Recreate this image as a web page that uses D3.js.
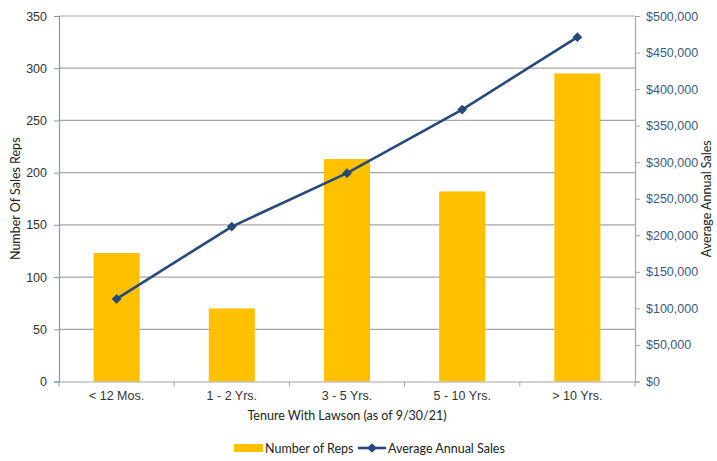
<!DOCTYPE html>
<html>
<head>
<meta charset="utf-8">
<script src="https://cdn.jsdelivr.net/npm/d3@7"></script>
<style>
  html, body { margin: 0; padding: 0; background: #fff; }
  svg { display: block; font-family: Lato, "Open Sans", sans-serif; }
</style>
</head>
<body>
<svg id="chart" width="717" height="461"></svg>
<script>
// Tenure groups and the two series plotted against them
const categories = ["< 12 Mos.", "1 - 2 Yrs.", "3 - 5 Yrs.", "5 - 10 Yrs.", "> 10 Yrs."];
const repCounts = [123, 70, 213, 182, 295];
const avgSales = [113000, 212000, 285000, 372000, 471000];
const leftTicks = [0, 50, 100, 150, 200, 250, 300, 350];
const rightTicks = [0, 50000, 100000, 150000, 200000, 250000, 300000, 350000, 400000, 450000, 500000];

const svg = d3.select("#chart");
const m = { left: 59, right: 635, top: 16, bottom: 381.5 };

const x = d3.scaleBand().domain(categories).range([m.left, m.right]).paddingInner(0.6).paddingOuter(0.3);
const xBand = d3.scaleBand().domain(categories).range([m.left, m.right]);
const yL = d3.scaleLinear().domain([0, 350]).range([m.bottom, m.top]);
const yR = d3.scaleLinear().domain([0, 500000]).range([m.bottom, m.top]);

// horizontal gridlines on the left-axis ticks
svg.append("g")
  .selectAll("line").data(leftTicks.filter(d => d > 0)).join("line")
  .attr("x1", m.left).attr("x2", m.right)
  .attr("y1", d => yL(d)).attr("y2", d => yL(d))
  .attr("stroke", "#a6a6a6").attr("stroke-width", 1.2);

// bars
svg.append("g")
  .selectAll("rect").data(categories).join("rect")
  .attr("x", (d) => xBand(d) + xBand.bandwidth() * 0.3)
  .attr("width", xBand.bandwidth() * 0.4)
  .attr("y", (d, i) => yL(repCounts[i]))
  .attr("height", (d, i) => yL(0) - yL(repCounts[i]))
  .attr("fill", "#FFC000");

// left axis
const gL = svg.append("g").attr("transform", `translate(${m.left},0)`)
  .call(d3.axisLeft(yL).tickValues(leftTicks).tickSize(5).tickPadding(7));
gL.select(".domain").attr("stroke", "#8597b0").attr("stroke-width", 1.2);
gL.selectAll(".tick line").attr("stroke", "#8597b0");
gL.selectAll("text").attr("fill", "#333").style("font-size", "12.5px");

// right axis
const fmt = d => "$" + d3.format(",")(d);
const gR = svg.append("g").attr("transform", `translate(${m.right},0)`)
  .call(d3.axisRight(yR).tickValues(rightTicks).tickFormat(fmt).tickSize(5).tickPadding(6));
gR.select(".domain").attr("stroke", "#a6a6a6").attr("stroke-width", 1.2);
gR.selectAll(".tick line").attr("stroke", "#a6a6a6");
gR.selectAll("text").attr("fill", "#3d5a80").style("font-size", "12.5px");

// bottom axis
const gB = svg.append("g").attr("transform", `translate(0,${m.bottom})`)
  .call(d3.axisBottom(xBand).tickSize(0).tickPadding(10));
gB.select(".domain").attr("stroke", "#a6a6a6").attr("stroke-width", 1.2);
gB.selectAll("text").attr("fill", "#333").style("font-size", "12.5px");
// category boundary ticks
svg.append("g").selectAll("line").data(categories).join("line")
  .attr("x1", d => xBand(d) + xBand.bandwidth()).attr("x2", d => xBand(d) + xBand.bandwidth())
  .attr("y1", m.bottom).attr("y2", m.bottom + 5)
  .attr("stroke", "#a6a6a6");
svg.append("line").attr("x1", m.left).attr("x2", m.left).attr("y1", m.bottom).attr("y2", m.bottom + 5)
  .attr("stroke", "#8597b0");

// sales line with diamond markers
const cx = d => xBand(d) + xBand.bandwidth() / 2;
const line = d3.line().x((d, i) => cx(categories[i])).y(d => yR(d));
svg.append("path").datum(avgSales)
  .attr("d", line).attr("fill", "none")
  .attr("stroke", "#24497a").attr("stroke-width", 2.6);
const diamond = d3.symbol().type(d3.symbolDiamond2).size(60);
svg.append("g").selectAll("path").data(avgSales).join("path")
  .attr("d", diamond)
  .attr("transform", (d, i) => `translate(${cx(categories[i])},${yR(d)})`)
  .attr("fill", "#24497a");

// axis titles
svg.append("text").attr("transform", `translate(20,${(m.top + m.bottom) / 2}) rotate(-90)`)
  .attr("text-anchor", "middle").attr("fill", "#222").style("font-size", "12.5px")
  .text("Number Of Sales Reps");
svg.append("text").attr("transform", `translate(711,${(m.top + m.bottom) / 2}) rotate(-90)`)
  .attr("text-anchor", "middle").attr("fill", "#222").style("font-size", "12.5px")
  .text("Average Annual Sales");
svg.append("text").attr("x", (m.left + m.right) / 2).attr("y", 420)
  .attr("text-anchor", "middle").attr("fill", "#222").style("font-size", "12.5px")
  .text("Tenure With Lawson (as of 9/30/21)");

// legend
const lg = svg.append("g").attr("transform", "translate(0,448)");
lg.append("rect").attr("x", 234).attr("y", -4).attr("width", 29).attr("height", 8).attr("fill", "#FFC000");
lg.append("text").attr("x", 265).attr("y", 4.5).attr("fill", "#222").style("font-size", "12.5px").text("Number of Reps");
lg.append("line").attr("x1", 358).attr("x2", 386).attr("y1", 0).attr("y2", 0)
  .attr("stroke", "#24497a").attr("stroke-width", 2.6);
lg.append("path").attr("d", diamond).attr("transform", "translate(372,0)").attr("fill", "#24497a");
lg.append("text").attr("x", 388).attr("y", 4.5).attr("fill", "#222").style("font-size", "12.5px").text("Average Annual Sales");
</script>
</body>
</html>
